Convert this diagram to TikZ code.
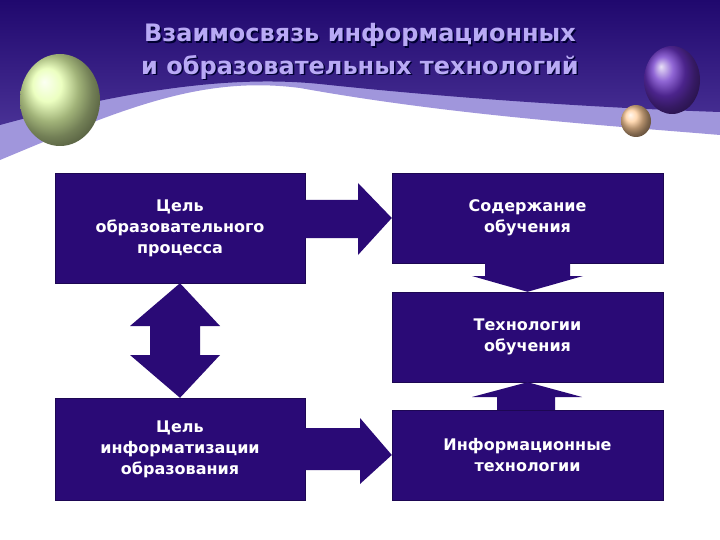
\documentclass[tikz,border=0pt]{standalone}
\usepackage{fontspec}
\setmainfont{DejaVu Sans}
\usetikzlibrary{calc}
\definecolor{boxc}{RGB}{42,10,118}
\definecolor{banner}{RGB}{40,12,130}
\definecolor{bannertop}{RGB}{32,8,110}
\definecolor{lav}{RGB}{160,150,220}
\definecolor{titlec}{RGB}{185,170,245}
\tikzset{
  box/.style={fill=boxc, draw=boxc!70!black, text=white, font=\bfseries\fontsize{16}{21}\selectfont, align=center, inner sep=0pt},
  arr/.style={fill=boxc},
  ttl/.style={font=\bfseries\fontsize{24}{28}\selectfont, text=titlec},
  ttlsh/.style={font=\bfseries\fontsize{24}{28}\selectfont, text=black!80!blue},
}
\begin{document}
\begin{tikzpicture}[x=1pt,y=-1pt]
\useasboundingbox (0,0) rectangle (720,540);
\fill[white] (0,0) rectangle (720,540);
% lavender band
\fill[lav] (0,0) -- (720,0) -- (720,135) .. controls (600,125) and (450,115) .. (300,88) .. controls (200,75) and (120,110) .. (0,160) -- cycle;
% dark banner
\shade[top color=bannertop, bottom color=banner!85!white] (0,0) -- (720,0) -- (720,112) .. controls (600,108) and (450,98) .. (320,84) .. controls (220,74) and (110,95) .. (0,125) -- cycle;
% balls
\shade[ball color=yellow!25!white!90!green] (60,100) ellipse (40 and 46);
\shade[ball color=blue!45!violet!80!white] (672,80) ellipse (28 and 34);
\shade[ball color=orange!40!white] (636,121) ellipse (15 and 16);
% title
\node[ttlsh] (t1s) at (361.5,36.5) {Взаимосвязь информационных};
\node[ttlsh] (t2s) at (361.5,68.5) {и образовательных технологий};
\node[ttl] (t1) at (360,35) {Взаимосвязь информационных};
\node[ttl] (t2) at (360,67) {и образовательных технологий};
% boxes
\node[box, minimum width=250, minimum height=110] (A) at (180,228) {Цель\\образовательного\\процесса};
\node[box, minimum width=271, minimum height=90] (B) at (527.5,218) {Содержание\\обучения};
\node[box, minimum width=271, minimum height=90] (C) at (527.5,337) {Технологии\\обучения};
\node[box, minimum width=271, minimum height=90] (D) at (527.5,455) {Информационные\\технологии};
\node[box, minimum width=250, minimum height=102] (E) at (180,449) {Цель\\информатизации\\образования};
% right arrows
\fill[arr] (A.east |- 0,200) -- (358,200) -- (358,183) -- (B.west) -- (358,255) -- (358,238) -- (A.east |- 0,238) -- cycle;
\fill[arr] (E.east |- 0,428) -- (360,428) -- (360,418) -- (D.west) -- (360,484) -- (360,470) -- (E.east |- 0,470) -- cycle;
% down arrow B->C
\fill[arr] (485,0 |- B.south) -- (570,0 |- B.south) -- (570,276) -- (583,276) -- (C.north) -- (472,276) -- (485,276) -- cycle;
% up arrow D->C
\fill[arr] (497,0 |- D.north) -- (555,0 |- D.north) -- (555,397) -- (582,397) -- (C.south) -- (472,397) -- (497,397) -- cycle;
% double arrow A<->E
\fill[arr] (A.south) -- (220,326) -- (200,326) -- (200,355) -- (220,355) -- (E.north) -- (130,355) -- (150,355) -- (150,326) -- (130,326) -- cycle;
\end{tikzpicture}
\end{document}
